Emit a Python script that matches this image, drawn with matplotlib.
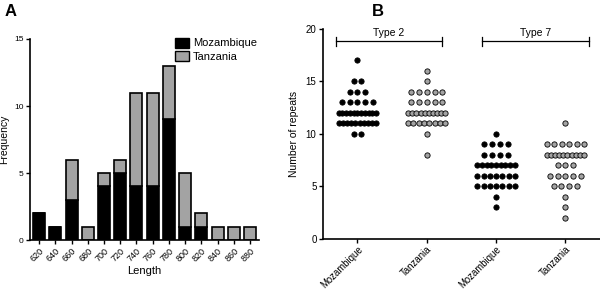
import numpy as np
import matplotlib
matplotlib.use("Agg")
import matplotlib.pyplot as plt
from matplotlib.patches import Patch

plt.rcParams['font.family'] = ['Liberation Sans', 'DejaVu Sans']

# ---- Panel A data ----
lengths = ['620', '640', '660', '680', '700', '720', '740', '760', '780', '800', '820', '840', '860', '880']
freq_moz = [2, 1, 3, 0, 4, 5, 4, 4, 9, 1, 1, 0, 0, 0]
freq_tan = [0, 0, 3, 1, 1, 1, 7, 7, 4, 4, 1, 1, 1, 1]

# ---- Panel B data (repeat number -> count of isolates) ----
t2_moz_vals = [17, 15, 14, 13, 12, 11, 10]
t2_moz_cnts = [1, 2, 3, 5, 11, 10, 2]
t2_tan_vals = [16, 15, 14, 13, 12, 11, 10, 8]
t2_tan_cnts = [1, 1, 5, 5, 10, 8, 1, 1]
t7_moz_vals = [10, 9, 8, 7, 6, 5, 4, 3]
t7_moz_cnts = [1, 4, 4, 9, 7, 7, 1, 1]
t7_tan_vals = [11, 9, 8, 7, 6, 5, 4, 3, 2]
t7_tan_cnts = [1, 6, 10, 3, 5, 4, 1, 1, 1]
group_labels = ['Mozambique', 'Tanzania', 'Mozambique', 'Tanzania']
type_labels = ['Type 2', 'Type 7']

GRAY = '#a3a3a3'

fig = plt.figure(figsize=(6.0, 2.91), dpi=100)

# ---------------- Panel A ----------------
axA = fig.add_axes([0.05, 0.175, 0.382, 0.691])
x = np.arange(len(lengths))
axA.bar(x, freq_moz, width=0.74, color='black', edgecolor='black', linewidth=1.2, label='Mozambique', zorder=2)
axA.bar(x, freq_tan, width=0.74, bottom=freq_moz, color=GRAY, edgecolor='black', linewidth=1.2,
        label='Tanzania', zorder=2)
axA.set_xlim(-0.56, 13.56)
axA.set_ylim(0, 15)
axA.set_yticks([0, 5, 10, 15])
axA.set_xticks(x)
axA.set_xticklabels(lengths, rotation=45, ha='right', rotation_mode='anchor', fontsize=6.5)
axA.tick_params(axis='y', labelsize=6, length=3, width=1, pad=1.5)
axA.tick_params(axis='x', length=3, width=1, pad=1.5)
for s in ['top', 'right']:
    axA.spines[s].set_visible(False)
for s in ['left', 'bottom']:
    axA.spines[s].set_linewidth(1.2)
axA.set_xlabel('Length', fontsize=8, labelpad=2)
axA.set_ylabel('Frequency', fontsize=7.5, labelpad=4)
handles = [Patch(facecolor='black', edgecolor='black', linewidth=1.0, label='Mozambique'),
           Patch(facecolor=GRAY, edgecolor='black', linewidth=1.0, label='Tanzania')]
axA.legend(handles=handles, loc='upper right', bbox_to_anchor=(1.02, 1.04), frameon=False, fontsize=8,
           handlelength=1.2, handleheight=1.0, handletextpad=0.4, labelspacing=0.25, borderaxespad=0.2)

# ---------------- Panel B ----------------
axB = fig.add_axes([0.538, 0.179, 0.462, 0.722])
groups = [(t2_moz_vals, t2_moz_cnts, 'black'),
          (t2_tan_vals, t2_tan_cnts, GRAY),
          (t7_moz_vals, t7_moz_cnts, 'black'),
          (t7_tan_vals, t7_tan_cnts, GRAY)]
step = 0.112
maxw = 0.54
for gi, (vals, cnts, col) in enumerate(groups):
    pos = gi + 1
    xs, ys = [], []
    for v, n in zip(vals, cnts):
        sp = step if n <= 1 else min(step, maxw / (n - 1))
        offs = (np.arange(n) - (n - 1) / 2.0) * sp
        xs.extend(pos + offs)
        ys.extend([v] * n)
    axB.plot(xs, ys, 'o', ms=3.8, mfc=col, mec='black', mew=0.6, ls='none', zorder=3)

axB.set_xlim(0.5, 4.5)
axB.set_ylim(0, 20)
axB.set_yticks([0, 5, 10, 15, 20])
axB.set_xticks([1, 2, 3, 4])
axB.set_xticklabels(group_labels, rotation=45, ha='right', rotation_mode='anchor', fontsize=6.9)
axB.tick_params(axis='y', labelsize=7, length=3, width=1, pad=1.5)
axB.tick_params(axis='x', length=3, width=1, pad=1.0)
for s in ['top', 'right']:
    axB.spines[s].set_visible(False)
for s in ['left', 'bottom']:
    axB.spines[s].set_linewidth(1.2)
axB.set_ylabel('Number of repeats', fontsize=7.5, labelpad=5)

# brackets
for (x0, x1), lab in zip([(0.69, 2.22), (2.80, 4.34)], type_labels):
    yb = 18.8
    axB.plot([x0, x1], [yb, yb], color='black', lw=0.9, clip_on=False)
    axB.plot([x0, x0], [yb - 0.4, yb + 0.4], color='black', lw=0.9, clip_on=False)
    axB.plot([x1, x1], [yb - 0.4, yb + 0.4], color='black', lw=0.9, clip_on=False)
    axB.text((x0 + x1) / 2, yb + 0.35, lab, ha='center', va='bottom', fontsize=7.5)

fig.text(0.008, 0.985, 'A', fontsize=12, fontweight='bold', ha='left', va='top')
fig.text(0.62, 0.985, 'B', fontsize=12, fontweight='bold', ha='left', va='top')

fig.savefig('out.png', dpi=100)
